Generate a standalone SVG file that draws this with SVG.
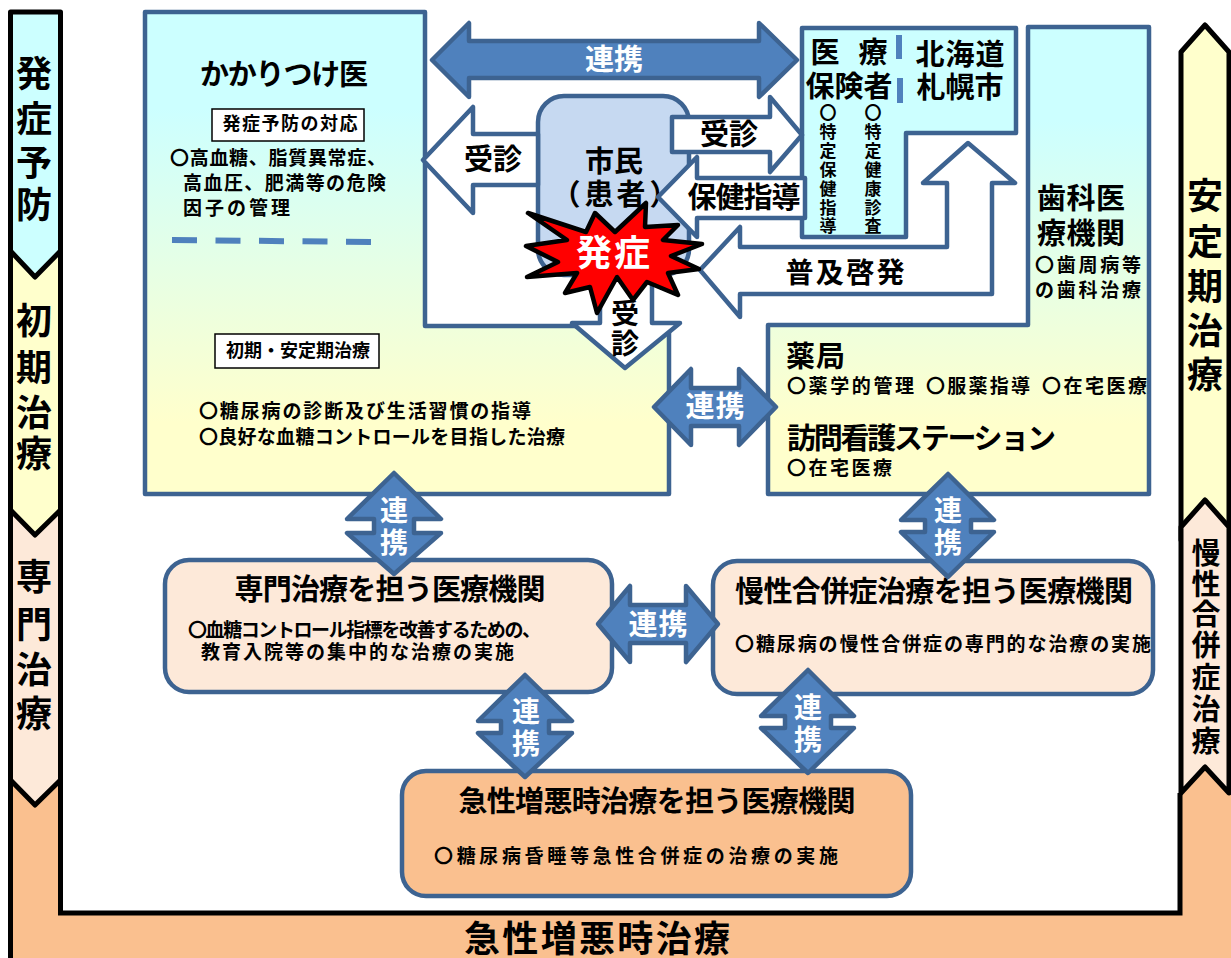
<svg xmlns="http://www.w3.org/2000/svg" width="1231" height="958" viewBox="0 0 1231 958">
<style>
text{font-family:"Noto Sans CJK JP","Noto Sans",sans-serif;font-weight:700;fill:#000;text-anchor:middle}
.s{text-anchor:start}
.w{fill:#fff}
.band{stroke:#000;stroke-width:5;stroke-linejoin:round}
.box{stroke:#3d6391;stroke-width:4.5;stroke-linejoin:round}
.arr{fill:#fff;stroke:#3d6391;stroke-width:4.5;stroke-linejoin:round}
.blue{fill:#4f81bd;stroke:#3d6391;stroke-width:4.5;stroke-linejoin:round}
.f36{font-size:36px}.f29{font-size:29px}.f28{font-size:28px}.f19{font-size:19px}.f18{font-size:18px}.f17{font-size:17px}
</style>
<defs>
<linearGradient id="g" x1="0" y1="0" x2="0" y2="1"><stop offset="0.2" stop-color="#ccffff"/><stop offset="0.85" stop-color="#ffffcc"/></linearGradient>
</defs>
<rect width="1231" height="958" fill="#fff"/>
<g id="band-acute">
<path d="M10.500 778L35 805L60.500 778V913H1180V793L1205 767L1231 793V958H10.500Z" fill="#fac08f"/>
<path d="M10.500 778V958M60.500 778V913H1180V793" fill="none" stroke="#000" stroke-width="5"/>
<text x="597" y="952" class="f36" textLength="266">急性増悪時治療</text>
</g>
<g id="band-specialist">
<path class="band" d="M10.500 505H60.500V780L35 805L10.500 780Z" fill="#fde9d9"/>
<text class="f36"><tspan x="34" y="590">専</tspan><tspan x="34" y="638">門</tspan><tspan x="34" y="683">治</tspan><tspan x="34" y="727">療</tspan></text>
</g>
<g id="band-initial">
<path class="band" d="M10.500 245H60.500V510L35 535L10.500 510Z" fill="#ffffcc"/>
<text class="f36"><tspan x="34" y="334">初</tspan><tspan x="34" y="381">期</tspan><tspan x="34" y="426">治</tspan><tspan x="34" y="467">療</tspan></text>
</g>
<g id="band-prevention">
<path class="band" d="M10.500 12H60.500V251L35 277L10.500 251Z" fill="#ccffff"/>
<text class="f36"><tspan x="34" y="87">発</tspan><tspan x="34" y="132">症</tspan><tspan x="34" y="176">予</tspan><tspan x="34" y="218">防</tspan></text>
</g>
<g id="band-stable">
<path class="band" d="M1181 52L1205 25L1229 52V540H1181Z" fill="#ffffcc"/>
<text class="f36"><tspan x="1205" y="209">安</tspan><tspan x="1205" y="255">定</tspan><tspan x="1205" y="300">期</tspan><tspan x="1205" y="344">治</tspan><tspan x="1205" y="388">療</tspan></text>
</g>
<g id="band-chronic">
<path class="band" d="M1181 527L1205 500L1229 527V793L1205 767L1181 793Z" fill="#fde9d9"/>
<text class="f29"><tspan x="1206" y="564">慢</tspan><tspan x="1206" y="595">性</tspan><tspan x="1206" y="625">合</tspan><tspan x="1206" y="656">併</tspan><tspan x="1206" y="688">症</tspan><tspan x="1206" y="720">治</tspan><tspan x="1206" y="752">療</tspan></text>
</g>
<g id="node-kakaritsuke">
<path class="box" d="M145 12H425V326H669V494H145Z" fill="url(#g)"/>
<text x="284" y="85" class="f29" textLength="168">かかりつけ医</text>
<rect x="212" y="109" width="152" height="32" fill="#fff" stroke="#000" stroke-width="1.500"/>
<text x="290" y="130" class="f18" textLength="135">発症予防の対応</text>
<text x="170" y="165" class="f19 s" textLength="216">〇高血糖、脂質異常症、</text>
<text x="183" y="190" class="f19 s" textLength="203">高血圧、肥満等の危険</text>
<text x="183" y="215" class="f19 s" textLength="107">因子の管理</text>
<path d="M172 240L371 242" fill="none" stroke="#4f81bd" stroke-width="6" stroke-dasharray="25 18.500"/>
<rect x="215" y="334" width="164" height="34" fill="#fff" stroke="#000" stroke-width="1.500"/>
<text x="298" y="357" class="f18" textLength="144">初期・安定期治療</text>
<text x="199" y="418" class="f19 s" textLength="332">〇糖尿病の診断及び生活習慣の指導</text>
<text x="199" y="444" class="f19 s" textLength="366">〇良好な血糖コントロールを目指した治療</text>
</g>
<g id="node-dental-pharmacy">
<path class="box" d="M1028 27H1149V494H768V325H1028Z" fill="url(#g)"/>
<text x="1081" y="209" class="f29" textLength="88">歯科医</text>
<text x="1081" y="244" class="f29" textLength="88">療機関</text>
<text x="1035" y="272" class="f19 s" textLength="106">〇歯周病等</text>
<text x="1035" y="297" class="f19 s" textLength="106">の歯科治療</text>
<text x="786" y="367" class="f29 s" textLength="59">薬局</text>
<text x="787" y="393" class="f19 s" textLength="127">〇薬学的管理</text>
<text x="926" y="393" class="f19 s" textLength="104">〇服薬指導</text>
<text x="1042" y="393" class="f19 s" textLength="105">〇在宅医療</text>
<text x="787" y="449" class="f29 s" textLength="269">訪問看護ステーション</text>
<text x="787" y="475" class="f19 s" textLength="105">〇在宅医療</text>
</g>
<g id="node-insurer">
<path class="box" d="M802 28H1016V133H906V237H802Z" fill="#ccffff"/>
<text x="825" y="63" class="f29">医</text>
<text x="873" y="63" class="f29">療</text>
<text x="849" y="97" class="f29" textLength="87">保険者</text>
<text x="960" y="65" class="f29" textLength="89">北海道</text>
<text x="960" y="98" class="f29" textLength="87">札幌市</text>
<rect x="896" y="35" width="6" height="24" fill="#4f81bd"/>
<rect x="897" y="78" width="6" height="25" fill="#4f81bd"/>
<text class="f17"><tspan x="828" y="119">〇</tspan><tspan x="828" y="138">特</tspan><tspan x="828" y="157">定</tspan><tspan x="828" y="176">保</tspan><tspan x="828" y="195">健</tspan><tspan x="828" y="214">指</tspan><tspan x="828" y="232">導</tspan></text>
<text class="f17"><tspan x="873" y="119">〇</tspan><tspan x="873" y="138">特</tspan><tspan x="873" y="157">定</tspan><tspan x="873" y="176">健</tspan><tspan x="873" y="195">康</tspan><tspan x="873" y="214">診</tspan><tspan x="873" y="232">査</tspan></text>
</g>
<g id="node-citizen">
<rect class="box" x="538" y="96" width="151" height="179" rx="26" fill="#c6d9f1"/>
<text x="614" y="172" class="f29" textLength="58">市民</text>
<text class="f29"><tspan x="566" y="205">（</tspan><tspan x="599" y="205">患</tspan><tspan x="631" y="205">者</tspan><tspan x="664" y="205">）</tspan></text>
</g>
<g id="node-specialist">
<rect class="box" x="165" y="560" width="447" height="132" rx="24" fill="#fde9d9"/>
<text x="390" y="600" class="f29" textLength="311">専門治療を担う医療機関</text>
<text x="188" y="637" class="f19 s" textLength="353">〇血糖コントロール指標を改善するための、</text>
<text x="201" y="659" class="f19 s" textLength="313">教育入院等の集中的な治療の実施</text>
</g>
<g id="node-chronic">
<rect class="box" x="713" y="561" width="440" height="133" rx="24" fill="#fde9d9"/>
<text x="934" y="602" class="f29" textLength="398">慢性合併症治療を担う医療機関</text>
<text x="735" y="651" class="f19 s" textLength="416">〇糖尿病の慢性合併症の専門的な治療の実施</text>
</g>
<g id="node-acute">
<rect class="box" x="402" y="771" width="509" height="125" rx="24" fill="#fac08f"/>
<text x="657" y="812" class="f29" textLength="397">急性増悪時治療を担う医療機関</text>
<text x="434" y="863" class="f19 s" textLength="404">〇糖尿病昏睡等急性合併症の治療の実施</text>
</g>
<g id="connectors">
<path class="arr" d="M423 160L473 107V134H538V185H473V213Z"/>
<text x="493" y="170" class="f29" textLength="58">受診</text>
<path class="arr" d="M672 117H770V97L802 135L770 172V152H672Z"/>
<text x="729" y="145" class="f29" textLength="58">受診</text>
<path class="arr" d="M658 197L697 157V178H805V218H697V237Z"/>
<text x="744" y="208" class="f29" textLength="113">保健指導</text>
<path class="arr" d="M700 270L740 227V247H947V183H923L968 143L1015 183H992V294H740V317Z"/>
<text x="845" y="283" class="f28" textLength="119">普及啓発</text>
<path class="arr" d="M600 270H652V323H680L625 368L572 323H600Z"/>
<text class="f28"><tspan x="625" y="324">受</tspan><tspan x="625" y="354">診</tspan></text>
<path class="blue" d="M432 60L469 23V41H759V23L797 60L759 97V78H469V97Z"/>
<text x="614" y="70" class="f29 w" textLength="58">連携</text>
<path class="blue" d="M654 407L691 369V388H739V369L776 407L739 445V426H691V445Z"/>
<text x="715" y="417" class="f29 w" textLength="59">連携</text>
<path class="blue" d="M598 624L630 586V605H686V586L718 624L686 662V643H630V662Z"/>
<text x="658" y="635" class="f29 w" textLength="59">連携</text>
<path class="blue" d="M394 473L441 519H414V533H441L394 574L347 533H374V519H347Z"/>
<text class="f28 w"><tspan x="394" y="521">連</tspan><tspan x="394" y="553">携</tspan></text>
<path class="blue" d="M948 474L994 520H971V532H994L948 577L901 532H925V520H901Z"/>
<text class="f28 w"><tspan x="948" y="521">連</tspan><tspan x="948" y="553">携</tspan></text>
<path class="blue" d="M525 675L572 721H549V733H572L525 777L478 733H501V721H478Z"/>
<text class="f28 w"><tspan x="526" y="722">連</tspan><tspan x="526" y="754">携</tspan></text>
<path class="blue" d="M808 670L854 716H831V728H854L808 773L761 728H785V716H761Z"/>
<text class="f28 w"><tspan x="808" y="718">連</tspan><tspan x="808" y="750">携</tspan></text>
</g>
<g id="node-onset">
<path d="M528 213L586 232L595 213L615 232L646 203L645 227L678 225L663 240L702 244L671 256L699 269L668 273L678 295L647 282L633 300L617 277L597 313L590 287L565 293L577 273L527 277L558 262L526 246L567 240Z" fill="#f00" stroke="#000" stroke-width="4.500" stroke-linejoin="round"/>
<text x="613" y="266" class="f36 w" textLength="74">発症</text>
</g>
</svg>
